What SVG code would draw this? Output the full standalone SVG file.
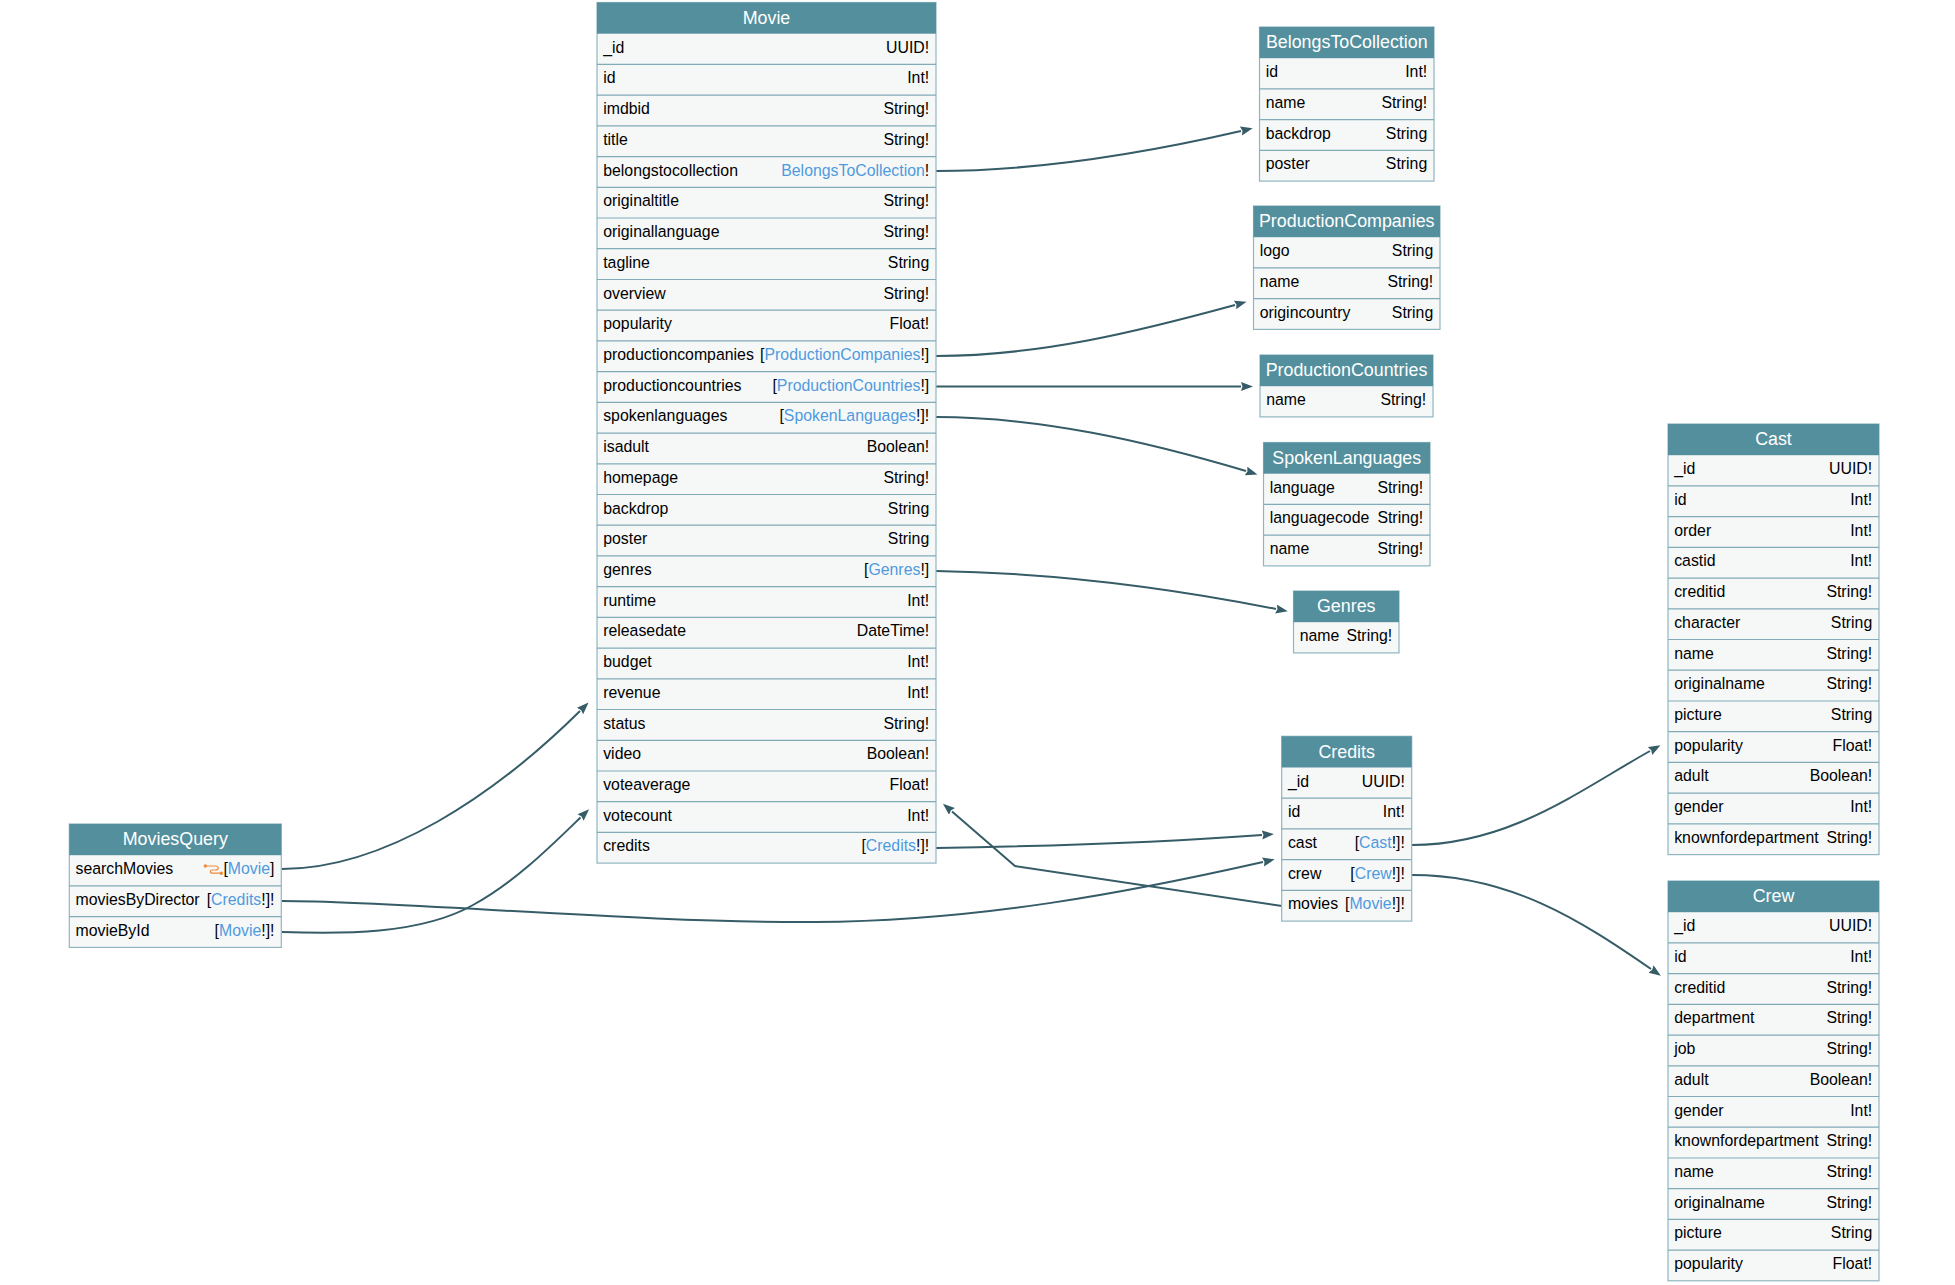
<svg xmlns="http://www.w3.org/2000/svg" width="1955" height="1285" viewBox="0 0 1955 1285">
<style>
text{font-family:"Liberation Sans",Arial,sans-serif;font-size:15.850px;fill:#000;transform:translate(-.3px,-.4px)}
.t{font-size:17.850px;fill:#fff;text-anchor:middle;transform:translate(0,-.7px)}
.r{text-anchor:end}
.k{fill:#4f9ade}
.h{fill:#548f9e}
.b{fill:#f6f8f8;stroke:#8fb6c1;stroke-width:1.2}
.s{fill:none;stroke:#80abb7;stroke-width:1.2}
.e{fill:none;stroke:#365c67;stroke-width:2;marker-end:url(#a)}
.i{fill:none;stroke:#f08a3c;stroke-width:1.2}
</style>
<defs>
<marker id="a" markerWidth="14" markerHeight="11" refX="0" refY="4.500" orient="auto" markerUnits="userSpaceOnUse"><path d="M0 0L12 4.500L0 9L1.500 4.500Z" fill="#365c67"/></marker>
</defs>
<rect width="1955" height="1285" fill="#fff"/>
<g id="edges">
<path class="e" d="M936 171C1040 171 1150 152 1241 131"/>
<path class="e" d="M936 356C1040 356 1140 331 1235 305"/>
<path class="e" d="M936 386.500H1241"/>
<path class="e" d="M936 417C1040 417 1145 441 1246 471"/>
<path class="e" d="M936 571C1060 573 1180 590 1276 609"/>
<path class="e" d="M936 848C1060 846 1170 842 1262 835"/>
<path class="e" d="M282 901C400 901 640 923 815 922C980 921 1130 892 1263 862"/>
<path class="e" d="M1282 906L1015 866L952 811.500"/>
<path class="e" d="M1412 845C1510 845 1580 790 1650 751"/>
<path class="e" d="M1412 875C1510 875 1580 920 1651 969"/>
<path class="e" d="M282 869C385 869 495 795 580 711"/>
<path class="e" d="M282 932C340 934 420 935 473 905C515 882 550 847 580.500 817.500"/>
</g>
<g id="Movie" transform="translate(597,2.500)">
<rect class="b" width="339" height="860.600"/><rect class="h" width="339" height="31.200"/>
<path class="s" d="M0 61.900H339M0 92.600H339M0 123.400H339M0 154.100H339M0 184.800H339M0 215.500H339M0 246.200H339M0 277H339M0 307.700H339M0 338.400H339M0 369.100H339M0 399.800H339M0 430.600H339M0 461.300H339M0 492H339M0 522.700H339M0 553.400H339M0 584.200H339M0 614.900H339M0 645.600H339M0 676.300H339M0 707H339M0 737.800H339M0 768.500H339M0 799.200H339M0 829.900H339"/>
<text class="t" x="169.500" y="22">Movie</text>
<text x="6.500" y="50.700">_id</text><text class="r" x="332.500" y="50.700">UUID!</text>
<text x="6.500" y="81.400">id</text><text class="r" x="332.500" y="81.400">Int!</text>
<text x="6.500" y="112.100">imdbid</text><text class="r" x="332.500" y="112.100">String!</text>
<text x="6.500" y="142.900">title</text><text class="r" x="332.500" y="142.900">String!</text>
<text x="6.500" y="173.600">belongstocollection</text><text class="r" x="332.500" y="173.600"><tspan class="k">BelongsToCollection</tspan>!</text>
<text x="6.500" y="204.300">originaltitle</text><text class="r" x="332.500" y="204.300">String!</text>
<text x="6.500" y="235">originallanguage</text><text class="r" x="332.500" y="235">String!</text>
<text x="6.500" y="265.700">tagline</text><text class="r" x="332.500" y="265.700">String</text>
<text x="6.500" y="296.500">overview</text><text class="r" x="332.500" y="296.500">String!</text>
<text x="6.500" y="327.200">popularity</text><text class="r" x="332.500" y="327.200">Float!</text>
<text x="6.500" y="357.900">productioncompanies</text><text class="r" x="332.500" y="357.900">[<tspan class="k">ProductionCompanies</tspan>!]</text>
<text x="6.500" y="388.600">productioncountries</text><text class="r" x="332.500" y="388.600">[<tspan class="k">ProductionCountries</tspan>!]</text>
<text x="6.500" y="419.300">spokenlanguages</text><text class="r" x="332.500" y="419.300">[<tspan class="k">SpokenLanguages</tspan>!]!</text>
<text x="6.500" y="450">isadult</text><text class="r" x="332.500" y="450">Boolean!</text>
<text x="6.500" y="480.800">homepage</text><text class="r" x="332.500" y="480.800">String!</text>
<text x="6.500" y="511.500">backdrop</text><text class="r" x="332.500" y="511.500">String</text>
<text x="6.500" y="542.200">poster</text><text class="r" x="332.500" y="542.200">String</text>
<text x="6.500" y="572.900">genres</text><text class="r" x="332.500" y="572.900">[<tspan class="k">Genres</tspan>!]</text>
<text x="6.500" y="603.700">runtime</text><text class="r" x="332.500" y="603.700">Int!</text>
<text x="6.500" y="634.400">releasedate</text><text class="r" x="332.500" y="634.400">DateTime!</text>
<text x="6.500" y="665.100">budget</text><text class="r" x="332.500" y="665.100">Int!</text>
<text x="6.500" y="695.800">revenue</text><text class="r" x="332.500" y="695.800">Int!</text>
<text x="6.500" y="726.500">status</text><text class="r" x="332.500" y="726.500">String!</text>
<text x="6.500" y="757.300">video</text><text class="r" x="332.500" y="757.300">Boolean!</text>
<text x="6.500" y="788">voteaverage</text><text class="r" x="332.500" y="788">Float!</text>
<text x="6.500" y="818.700">votecount</text><text class="r" x="332.500" y="818.700">Int!</text>
<text x="6.500" y="849.400">credits</text><text class="r" x="332.500" y="849.400">[<tspan class="k">Credits</tspan>!]!</text>
</g>
<g id="BelongsToCollection" transform="translate(1259.500,27)">
<rect class="b" width="174.500" height="154.100"/><rect class="h" width="174.500" height="31.200"/>
<path class="s" d="M0 61.900H174.500M0 92.600H174.500M0 123.400H174.500"/>
<text class="t" x="87.250" y="22">BelongsToCollection</text>
<text x="6.500" y="50.700">id</text><text class="r" x="168" y="50.700">Int!</text>
<text x="6.500" y="81.400">name</text><text class="r" x="168" y="81.400">String!</text>
<text x="6.500" y="112.100">backdrop</text><text class="r" x="168" y="112.100">String</text>
<text x="6.500" y="142.900">poster</text><text class="r" x="168" y="142.900">String</text>
</g>
<g id="ProductionCompanies" transform="translate(1253.500,206)">
<rect class="b" width="186.500" height="123.400"/><rect class="h" width="186.500" height="31.200"/>
<path class="s" d="M0 61.900H186.500M0 92.600H186.500"/>
<text class="t" x="93.250" y="22">ProductionCompanies</text>
<text x="6.500" y="50.700">logo</text><text class="r" x="180" y="50.700">String</text>
<text x="6.500" y="81.400">name</text><text class="r" x="180" y="81.400">String!</text>
<text x="6.500" y="112.100">origincountry</text><text class="r" x="180" y="112.100">String</text>
</g>
<g id="ProductionCountries" transform="translate(1260,355)">
<rect class="b" width="173" height="61.900"/><rect class="h" width="173" height="31.200"/>
<text class="t" x="86.500" y="22">ProductionCountries</text>
<text x="6.500" y="50.700">name</text><text class="r" x="166.500" y="50.700">String!</text>
</g>
<g id="SpokenLanguages" transform="translate(1263.500,442.500)">
<rect class="b" width="166.500" height="123.400"/><rect class="h" width="166.500" height="31.200"/>
<path class="s" d="M0 61.900H166.500M0 92.600H166.500"/>
<text class="t" x="83.250" y="22">SpokenLanguages</text>
<text x="6.500" y="50.700">language</text><text class="r" x="160" y="50.700">String!</text>
<text x="6.500" y="81.400">languagecode</text><text class="r" x="160" y="81.400">String!</text>
<text x="6.500" y="112.100">name</text><text class="r" x="160" y="112.100">String!</text>
</g>
<g id="Genres" transform="translate(1293.500,591)">
<rect class="b" width="105.500" height="61.900"/><rect class="h" width="105.500" height="31.200"/>
<text class="t" x="52.750" y="22">Genres</text>
<text x="6.500" y="50.700">name</text><text class="r" x="99" y="50.700">String!</text>
</g>
<g id="Credits" transform="translate(1281.700,736.300)">
<rect class="b" width="130" height="184.800"/><rect class="h" width="130" height="31.200"/>
<path class="s" d="M0 61.900H130M0 92.600H130M0 123.400H130M0 154.100H130"/>
<text class="t" x="65" y="22">Credits</text>
<text x="6.500" y="50.700">_id</text><text class="r" x="123.500" y="50.700">UUID!</text>
<text x="6.500" y="81.400">id</text><text class="r" x="123.500" y="81.400">Int!</text>
<text x="6.500" y="112.100">cast</text><text class="r" x="123.500" y="112.100">[<tspan class="k">Cast</tspan>!]!</text>
<text x="6.500" y="142.900">crew</text><text class="r" x="123.500" y="142.900">[<tspan class="k">Crew</tspan>!]!</text>
<text x="6.500" y="173.600">movies</text><text class="r" x="123.500" y="173.600">[<tspan class="k">Movie</tspan>!]!</text>
</g>
<g id="Cast" transform="translate(1668,424)">
<rect class="b" width="211" height="430.600"/><rect class="h" width="211" height="31.200"/>
<path class="s" d="M0 61.900H211M0 92.600H211M0 123.400H211M0 154.100H211M0 184.800H211M0 215.500H211M0 246.200H211M0 277H211M0 307.700H211M0 338.400H211M0 369.100H211M0 399.800H211"/>
<text class="t" x="105.500" y="22">Cast</text>
<text x="6.500" y="50.700">_id</text><text class="r" x="204.500" y="50.700">UUID!</text>
<text x="6.500" y="81.400">id</text><text class="r" x="204.500" y="81.400">Int!</text>
<text x="6.500" y="112.100">order</text><text class="r" x="204.500" y="112.100">Int!</text>
<text x="6.500" y="142.900">castid</text><text class="r" x="204.500" y="142.900">Int!</text>
<text x="6.500" y="173.600">creditid</text><text class="r" x="204.500" y="173.600">String!</text>
<text x="6.500" y="204.300">character</text><text class="r" x="204.500" y="204.300">String</text>
<text x="6.500" y="235">name</text><text class="r" x="204.500" y="235">String!</text>
<text x="6.500" y="265.700">originalname</text><text class="r" x="204.500" y="265.700">String!</text>
<text x="6.500" y="296.500">picture</text><text class="r" x="204.500" y="296.500">String</text>
<text x="6.500" y="327.200">popularity</text><text class="r" x="204.500" y="327.200">Float!</text>
<text x="6.500" y="357.900">adult</text><text class="r" x="204.500" y="357.900">Boolean!</text>
<text x="6.500" y="388.600">gender</text><text class="r" x="204.500" y="388.600">Int!</text>
<text x="6.500" y="419.300">knownfordepartment</text><text class="r" x="204.500" y="419.300">String!</text>
</g>
<g id="Crew" transform="translate(1668,881)">
<rect class="b" width="211" height="399.800"/><rect class="h" width="211" height="31.200"/>
<path class="s" d="M0 61.900H211M0 92.600H211M0 123.400H211M0 154.100H211M0 184.800H211M0 215.500H211M0 246.200H211M0 277H211M0 307.700H211M0 338.400H211M0 369.100H211"/>
<text class="t" x="105.500" y="22">Crew</text>
<text x="6.500" y="50.700">_id</text><text class="r" x="204.500" y="50.700">UUID!</text>
<text x="6.500" y="81.400">id</text><text class="r" x="204.500" y="81.400">Int!</text>
<text x="6.500" y="112.100">creditid</text><text class="r" x="204.500" y="112.100">String!</text>
<text x="6.500" y="142.900">department</text><text class="r" x="204.500" y="142.900">String!</text>
<text x="6.500" y="173.600">job</text><text class="r" x="204.500" y="173.600">String!</text>
<text x="6.500" y="204.300">adult</text><text class="r" x="204.500" y="204.300">Boolean!</text>
<text x="6.500" y="235">gender</text><text class="r" x="204.500" y="235">Int!</text>
<text x="6.500" y="265.700">knownfordepartment</text><text class="r" x="204.500" y="265.700">String!</text>
<text x="6.500" y="296.500">name</text><text class="r" x="204.500" y="296.500">String!</text>
<text x="6.500" y="327.200">originalname</text><text class="r" x="204.500" y="327.200">String!</text>
<text x="6.500" y="357.900">picture</text><text class="r" x="204.500" y="357.900">String</text>
<text x="6.500" y="388.600">popularity</text><text class="r" x="204.500" y="388.600">Float!</text>
</g>
<g id="MoviesQuery" transform="translate(69.300,824)">
<rect class="b" width="212" height="123.400"/><rect class="h" width="212" height="31.200"/>
<path class="s" d="M0 61.900H212M0 92.600H212"/>
<text class="t" x="106" y="22">MoviesQuery</text>
<text x="6.500" y="50.700">searchMovies</text><text class="r" x="205.500" y="50.700">[<tspan class="k">Movie</tspan>]</text>
<path class="i" d="M136 42H146Q149 42 149 44Q149 46 146 46H143Q141 46 141 47.500Q141 49.200 143 49.200H152"/><circle cx="136" cy="42" r="1.700" fill="#f08a3c"/><circle cx="152" cy="49.200" r="1.700" fill="#f08a3c"/>
<text x="6.500" y="81.400">moviesByDirector</text><text class="r" x="205.500" y="81.400">[<tspan class="k">Credits</tspan>!]!</text>
<text x="6.500" y="112.100">movieById</text><text class="r" x="205.500" y="112.100">[<tspan class="k">Movie</tspan>!]!</text>
</g>
</svg>
